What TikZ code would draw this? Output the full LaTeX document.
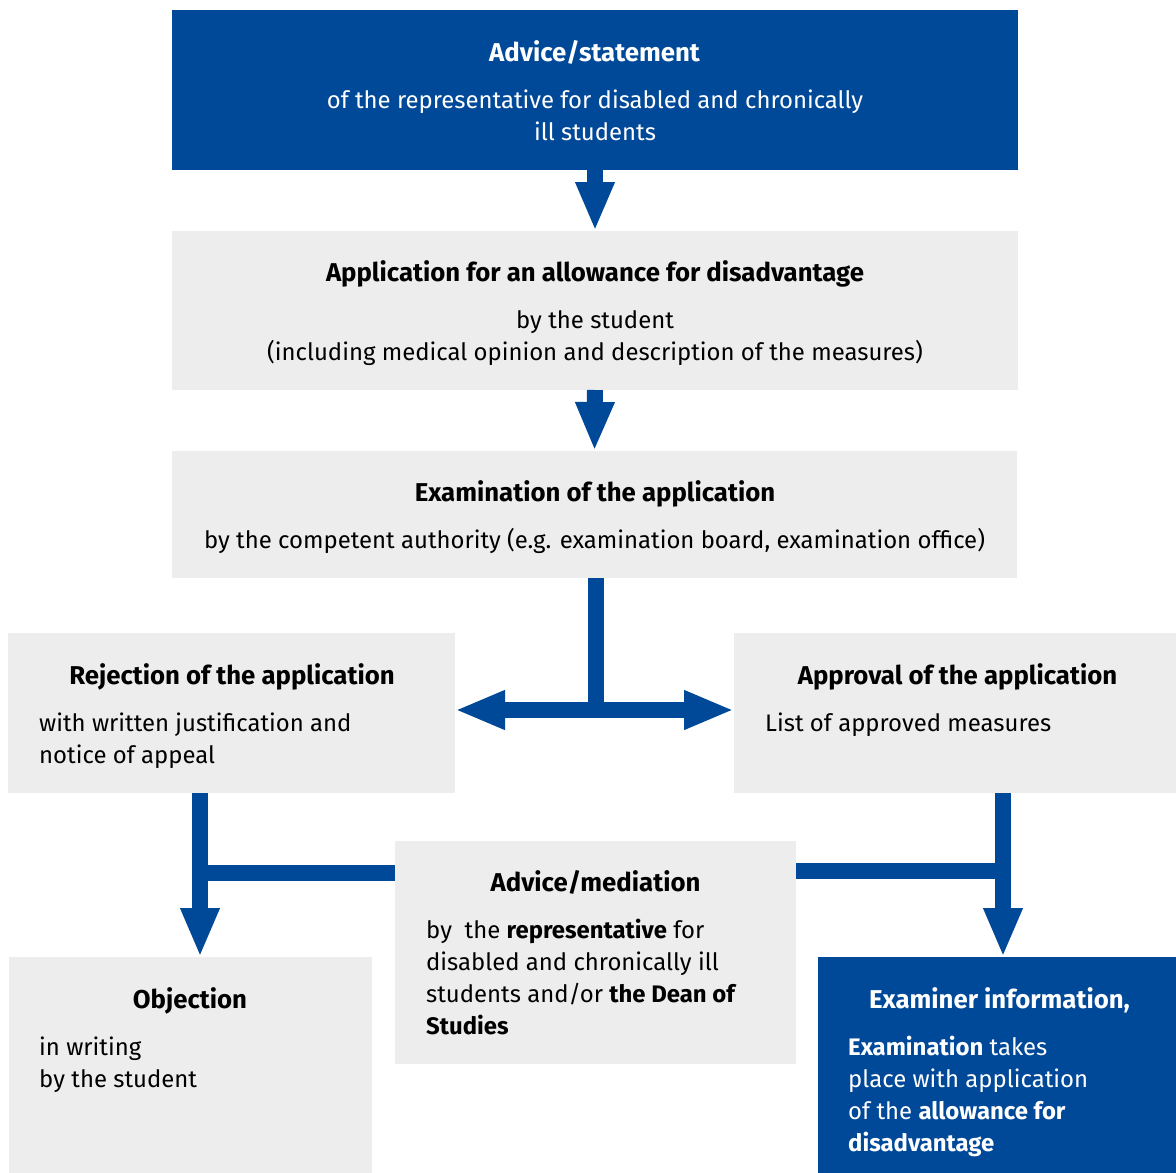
\documentclass[tikz,border=0pt]{standalone}
\usepackage{fontspec}
\setmainfont{Fira Sans}
\usetikzlibrary{arrows.meta}
\definecolor{ublue}{RGB}{0,73,153}
\definecolor{ugray}{RGB}{237,237,237}
\newlength\reflen
\newlength\reflenb
\newcommand\tstrut{\rule{0pt}{24pt}}
\begin{document}
\settowidth{\reflen}{\fontsize{10pt}{12pt}\selectfont by the competent authority (e.g. examination board, examination office)}%
\settowidth{\reflenb}{\fontsize{10pt}{12pt}\selectfont\bfseries Application for an allowance for disadvantage}%
\pgfmathsetmacro\fs{10*781/\reflen}%
\pgfmathsetmacro\fb{10*538/\reflenb}%
\begin{tikzpicture}[x=1pt,y=-1pt,
  boxbase/.style={rectangle, inner sep=0pt, outer sep=0pt, draw=none},
  graybox/.style={boxbase, fill=ugray},
  bluebox/.style={boxbase, fill=ublue},
  ttl/.style={inner sep=0pt, font=\fontsize{\fb pt}{32pt}\selectfont\bfseries},
  bodytxt/.style={inner sep=0pt, font=\fontsize{\fs pt}{32pt}\selectfont},
  shaft/.style={draw=ublue, line width=16pt},
  barrow/.style={shaft, -{Triangle[width=36pt,length=49pt]}},
  dbarrow/.style={shaft, {Triangle[width=36pt,length=50pt]}-{Triangle[width=36pt,length=50pt]}}]
\useasboundingbox (0,0) rectangle (1176,1173);
\fill[white] (0,0) rectangle (1176,1173);

% boxes
\node[bluebox, minimum width=846pt, minimum height=160pt] (b1) at (595,90) {};
\node[graybox, minimum width=846pt, minimum height=159pt] (b2) at (595,310.5) {};
\node[graybox, minimum width=845pt, minimum height=127pt] (b3) at (594.5,514.5) {};
\node[graybox, minimum width=447pt, minimum height=160pt] (rej) at (231.5,713) {};
\node[graybox, minimum width=442pt, minimum height=160pt] (app) at (955,713) {};
\node[graybox, minimum width=401pt, minimum height=223pt] (med) at (595.5,952.5) {};
\node[graybox, minimum width=363pt, minimum height=216pt] (obj) at (190.5,1065) {};
\node[bluebox, minimum width=358pt, minimum height=216pt] (exam) at (997,1065) {};

% texts
\node[ttl, text=white, anchor=base] (b1t) at (594.5,61) {Advice/statement};
\node[bodytxt, text=white, align=center, anchor=north] (b1b) at (595,84)
  {\tstrut of the representative for disabled and chronically\\ill students};

\node[ttl, anchor=base] (b2t) at (595,281) {Application for an allowance for disadvantage};
\node[bodytxt, align=center, anchor=north] (b2b) at (595,304)
  {\tstrut by the student\\(including medical opinion and description of the measures)};

\node[ttl, anchor=base] (b3t) at (595,501) {Examination of the application};
\node[bodytxt, align=center, anchor=north] (b3b) at (594.5,524)
  {\tstrut by the competent authority (e.g. examination board, examination office)};

\node[ttl, anchor=base] (rejt) at (232,684) {Rejection of the application};
\node[bodytxt, align=left, anchor=north west] (rejb) at (39,707)
  {\tstrut with written justification and\\notice of appeal};

\node[ttl, anchor=base] (appt) at (957.5,684) {Approval of the application};
\node[bodytxt, align=left, anchor=north west] (appb) at (765,707)
  {\tstrut List of approved measures};

\node[ttl, anchor=base] (medt) at (595.5,891) {Advice/mediation};
\node[bodytxt, align=left, anchor=north west] (medb) at (426,914)
  {\tstrut by\ \ the \textbf{representative} for\\disabled and chronically ill\\students and/or \textbf{the Dean of}\\\textbf{Studies}};

\node[ttl, anchor=base] (objt) at (190,1008) {Objection};
\node[bodytxt, align=left, anchor=north west] (objb) at (39,1031)
  {\tstrut in writing\\by the student};

\node[ttl, text=white, anchor=base] (examt) at (999.5,1008) {Examiner information,};
\node[bodytxt, text=white, align=left, anchor=north west] (examb) at (848,1031)
  {\tstrut\textbf{Examination} takes\\place with application\\of the \textbf{allowance for}\\\textbf{disadvantage}};

% connectors
\draw[barrow] (b1.south) -- (b2.north);
\draw[barrow] (b2.south) -- (b3.north);
\coordinate (j) at (595.5,710);
\draw[shaft] (b3.south -| j) -- (j);
\draw[dbarrow] (rej.east |- j) -- (app.west |- j);

\coordinate (lx) at (200,873);
\draw[barrow] (lx |- rej.south) -- (lx |- obj.north);
\draw[shaft] (med.west |- lx) -- (lx);

\coordinate (rx) at (1003,871);
\draw[barrow] (rx |- app.south) -- (rx |- exam.north);
\draw[shaft] (med.east |- rx) -- (rx);
\end{tikzpicture}
\end{document}
